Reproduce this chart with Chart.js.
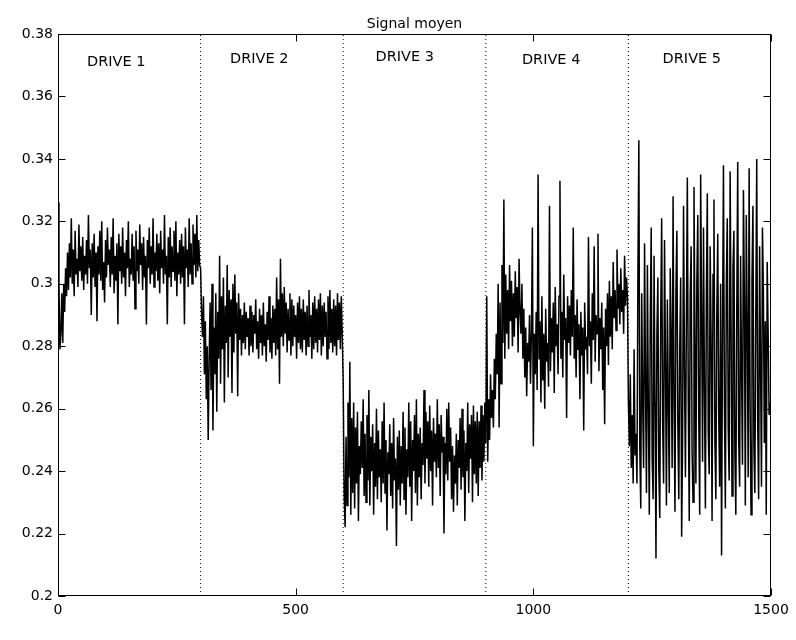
<!DOCTYPE html>
<html>
<head>
<meta charset="utf-8">
<script src="https://cdn.jsdelivr.net/npm/chart.js@4"></script>
<style>
html,body{margin:0;padding:0;background:#fff;}
canvas{display:block;}
</style>
</head>
<body>
<canvas id="c" width="796" height="640"></canvas>
<script>
// Sample spacing along x (samples read every 2 units), values in thousandths
const SAMPLE_STEP = 2;
const VALUE_UNIT = 1000;

const drive1 = [
326,300,279,284,297,281,300,291,305,296,
310,298,313,302,321,300,311,296,317,303,
308,299,319,304,312,301,315,298,309,303,
314,300,322,305,311,290,313,302,316,299,
310,288,312,303,317,301,320,298,307,294,
314,302,318,306,311,299,315,303,321,297,
309,301,313,287,316,304,312,300,318,302,
310,296,314,305,320,299,308,303,316,301,
312,292,317,304,311,300,319,306,313,298,
315,302,309,287,314,305,318,300,312,303,
321,299,310,304,316,301,313,297,317,305,
311,300,322,303,309,287,315,302,318,299,
312,304,317,301,320,296,310,303,314,300,
316,302,312,287,318,305,311,299,321,303,
313,300,319,306,316,302,322,304,314,306
];
const drive2 = [
305,291,283,296,271,288,263,280,250,276,
294,266,300,253,286,271,297,259,291,276,
309,268,296,279,302,262,293,281,306,270,
298,283,295,265,300,278,303,284,294,264,
297,282,292,277,290,281,294,279,291,283,
289,277,293,280,291,278,290,284,295,279,
288,276,292,281,290,277,294,280,287,275,
291,282,296,278,289,276,293,281,292,277,
302,279,295,268,308,283,297,280,299,284,
294,278,292,282,297,277,295,280,293,283,
290,276,294,281,296,279,292,278,295,282,
291,277,293,280,298,283,290,276,294,279,
296,281,292,278,295,282,297,277,293,280,
294,283,291,276,296,279,298,281,292,278,
295,280,293,277,297,282,294,279,296,284
];
const drive3 = [
268,232,222,251,229,262,238,275,226,257,
233,262,228,254,236,259,224,248,239,256,
241,263,232,252,230,258,237,266,229,251,
240,255,226,249,235,260,231,253,238,247,
230,256,236,262,233,250,221,246,239,255,
232,249,228,257,237,244,216,251,234,253,
229,248,236,259,231,254,226,247,238,262,
235,256,224,250,240,258,233,263,229,252,
238,254,231,249,242,266,236,259,244,256,
235,261,240,253,229,257,243,252,238,263,
241,255,232,258,246,251,220,249,239,260,
237,262,243,254,231,248,227,245,236,252,
229,250,241,257,234,260,238,253,224,249,
240,262,233,255,244,258,230,261,239,256,
236,259,232,256,241,261,237,258,243,262
];
const drive4 = [
249,296,243,263,250,271,257,266,254,276,
263,284,271,300,254,294,268,306,281,327,
276,303,284,298,279,306,288,301,280,297,
283,304,289,299,278,308,291,284,300,276,
292,270,286,264,281,275,290,268,284,318,
248,284,271,291,266,335,276,288,262,296,
269,284,260,292,275,281,267,325,272,289,
278,294,265,299,280,287,271,296,333,276,
291,270,303,282,289,257,296,281,293,277,
298,283,318,276,290,270,295,279,287,263,
291,277,286,253,294,279,283,271,315,280,
288,268,297,282,312,275,290,284,316,272,
289,279,294,266,286,255,292,280,297,274,
301,283,296,279,307,289,298,285,311,292,
300,287,305,291,298,284,309,293,302,296
];
const drive5 = [
262,248,271,241,258,236,279,245,252,236,
303,346,247,228,297,262,241,313,268,233,
306,259,226,288,318,244,231,309,262,212,
284,302,240,225,290,321,256,236,314,276,
229,295,262,233,305,283,241,328,263,227,
298,317,255,231,279,302,219,250,325,272,
238,289,334,262,224,296,312,246,230,331,
284,236,301,322,258,226,335,290,243,318,
265,228,296,329,252,239,312,283,224,303,
327,249,231,291,316,258,235,300,213,285,
338,262,228,299,321,254,237,336,287,232,
305,317,246,226,292,339,250,235,309,272,
242,330,296,229,322,287,238,337,262,226,
301,325,248,233,291,340,256,231,312,275,
235,318,297,249,288,226,307,284,258,262
];

const dividerX = [300, 600, 900, 1200];
const driveLabels = ['DRIVE 1','DRIVE 2','DRIVE 3','DRIVE 4','DRIVE 5'];
const driveLabelX = [61, 362, 668, 976, 1272];
const driveLabelY = [0.3711, 0.3719, 0.3726, 0.3717, 0.3719];
const xTicks = [0, 500, 1000, 1500];
const yTicks = [0.2, 0.22, 0.24, 0.26, 0.28, 0.3, 0.32, 0.34, 0.36, 0.38];
const titleText = 'Signal moyen';

const allValues = [].concat(drive1, drive2, drive3, drive4, drive5);
const signalData = allValues.map((v, i) => ({x: i * SAMPLE_STEP, y: v / VALUE_UNIT}));

const datasets = [];
dividerX.forEach(xv => {
  datasets.push({
    data: [{x: xv, y: yTicks[0]}, {x: xv, y: yTicks[yTicks.length - 1]}],
    borderColor: '#000', borderWidth: 1, borderDash: [1, 3],
    pointRadius: 0, fill: false
  });
});
datasets.push({
  data: signalData,
  borderColor: '#000', borderWidth: 1.5, pointRadius: 0,
  fill: false, tension: 0
});

const FONT = "'DejaVu Sans', 'Liberation Sans', sans-serif";

const boxPlugin = {
  id: 'boxPlugin',
  afterDraw(chart) {
    const ctx = chart.ctx;
    const a = chart.chartArea;
    const xs = chart.scales.x, ys = chart.scales.y;
    ctx.save();
    ctx.strokeStyle = '#000';
    ctx.lineWidth = 1;
    const L = Math.round(a.left) + 0.5, R = Math.round(a.right) - 0.5;
    const T = Math.round(a.top) + 0.5, B = Math.round(a.bottom) - 0.5;
    ctx.strokeRect(L, T, R - L, B - T);
    const TL = 7;
    ctx.beginPath();
    xTicks.forEach(v => {
      const px = Math.round(xs.getPixelForValue(v)) + 0.5;
      ctx.moveTo(px, B); ctx.lineTo(px, B - TL);
      ctx.moveTo(px, T); ctx.lineTo(px, T + TL);
    });
    yTicks.forEach(v => {
      const py = Math.round(ys.getPixelForValue(v)) + 0.5;
      ctx.moveTo(L, py); ctx.lineTo(L + TL, py);
      ctx.moveTo(R, py); ctx.lineTo(R - TL, py);
    });
    ctx.stroke();
    // title
    ctx.fillStyle = '#000';
    ctx.font = '14px ' + FONT;
    ctx.textAlign = 'center';
    ctx.textBaseline = 'middle';
    ctx.fillText(titleText, (a.left + a.right) / 2, 24);
    // drive labels
    ctx.font = '14.5px ' + FONT;
    ctx.textAlign = 'left';
    driveLabels.forEach((t, i) => {
      ctx.fillText(t, xs.getPixelForValue(driveLabelX[i]), ys.getPixelForValue(driveLabelY[i]));
    });
    ctx.restore();
  }
};

new Chart(document.getElementById('c'), {
  type: 'line',
  data: {datasets},
  options: {
    responsive: false,
    animation: false,
    devicePixelRatio: 1,
    layout: {padding: {top: 34, right: 25, left: 0, bottom: 0}},
    plugins: {legend: {display: false}, title: {display: false}, tooltip: {enabled: false}},
    scales: {
      x: {
        type: 'linear', min: 0, max: 1500,
        afterFit: s => { s.height = 44; },
        afterBuildTicks: s => { s.ticks = xTicks.map(v => ({value: v})); },
        ticks: {color: '#000', font: {family: FONT, size: 14}, padding: 6, maxRotation: 0, autoSkip: false,
                callback: v => String(v)},
        grid: {display: false, drawTicks: false},
        border: {display: false}
      },
      y: {
        type: 'linear', min: 0.2, max: 0.38,
        afterFit: s => { s.width = 58; },
        afterBuildTicks: s => { s.ticks = yTicks.map(v => ({value: v})); },
        ticks: {color: '#000', font: {family: FONT, size: 14}, padding: 5, autoSkip: false,
                callback: v => String(+Number(v).toFixed(2))},
        grid: {display: false, drawTicks: false},
        border: {display: false}
      }
    }
  },
  plugins: [boxPlugin]
});
</script>
</body>
</html>
